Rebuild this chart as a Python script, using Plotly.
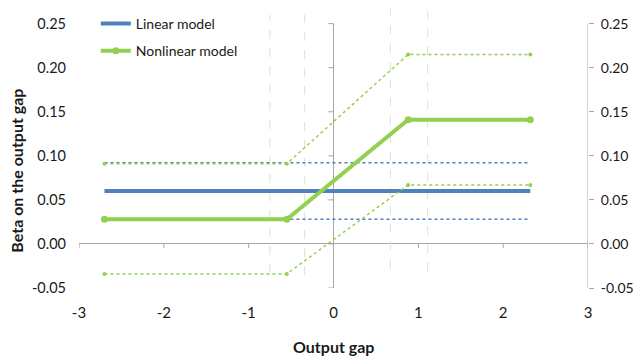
import plotly.graph_objects as go

# ---- data ----
lin_x = [-2.7, 2.32]
lin_beta = [0.06, 0.06]
lin_upper = [0.092, 0.092]
lin_lower = [0.028, 0.028]

nl_x = [-2.7, -0.55, 0.88, 2.32]
nl_beta = [0.028, 0.028, 0.141, 0.141]
nl_upper = [0.091, 0.091, 0.215, 0.215]
nl_lower = [-0.034, -0.034, 0.067, 0.067]

thr_x = [-0.75, -0.34, 0.67, 1.11]
thr_top = [0.260, 0.260, 0.267, 0.264]
thr_bottom = [-0.033, -0.035, -0.028, -0.031]

y_tickvals = [-0.05, 0.0, 0.05, 0.10, 0.15, 0.20, 0.25]
y_ticktext = ["-0.05", "0.00", "0.05", "0.10", "0.15", "0.20", "0.25"]
x_tickvals = [-3, -2, -1, 0, 1, 2, 3]
x_ticktext = ["-3", "-2", "-1", "0", "1", "2", "3"]

BLUE = "#4F81BD"
GREEN = "#92D050"
AXIS = "#A6A6A6"
FONT = "Lato, 'Liberation Sans', sans-serif"
TXT = "#1a1a1a"

fig = go.Figure()

# threshold confidence lines
vx, vy = [], []
for x0, t, b in zip(thr_x, thr_top, thr_bottom):
    vx += [x0, x0, None]
    vy += [b, t, None]
fig.add_trace(go.Scatter(x=vx, y=vy, mode="lines", showlegend=False,
                         line=dict(color="#D8E6C0", width=1, dash="dash"),
                         hoverinfo="skip"))

# linear model
fig.add_trace(go.Scatter(x=lin_x, y=lin_beta, mode="lines", name="Linear model",
                         line=dict(color=BLUE, width=4), legendgroup="a"))
for ys in (lin_upper, lin_lower):
    fig.add_trace(go.Scatter(x=lin_x, y=ys, mode="lines", showlegend=False,
                             line=dict(color=BLUE, width=1.5, dash="dot")))

# nonlinear model
for ys in (nl_upper, nl_lower):
    fig.add_trace(go.Scatter(x=nl_x, y=ys, mode="lines+markers", showlegend=False,
                             line=dict(color=GREEN, width=1.5, dash="dot"),
                             marker=dict(color=GREEN, size=4)))
fig.add_trace(go.Scatter(x=nl_x, y=nl_beta, mode="lines+markers", name="Nonlinear model",
                         line=dict(color=GREEN, width=4),
                         marker=dict(color=GREEN, size=7), legendgroup="b"))

# invisible trace for right axis
fig.add_trace(go.Scatter(x=[None], y=[None], yaxis="y2", showlegend=False))

shapes = []
# vertical axis at x=0
shapes.append(dict(type="line", xref="x", yref="y", x0=0, x1=0,
                   y0=y_tickvals[0], y1=y_tickvals[-1],
                   line=dict(color=AXIS, width=1), layer="below"))
# right axis line at x=3
shapes.append(dict(type="line", xref="x", yref="y", x0=x_tickvals[-1], x1=x_tickvals[-1],
                   y0=y_tickvals[0], y1=y_tickvals[-1],
                   line=dict(color=AXIS, width=1), layer="below"))
# tick marks on x=0 axis (pointing left)
for v in y_tickvals:
    shapes.append(dict(type="line", xref="x", yref="y", x0=-0.06, x1=0, y0=v, y1=v,
                       line=dict(color=AXIS, width=1), layer="below"))
# tick marks on y=0 axis (pointing down)
for v in x_tickvals:
    shapes.append(dict(type="line", xref="x", yref="y", x0=v, x1=v, y0=0, y1=-0.0048,
                       line=dict(color=AXIS, width=1), layer="below"))

YR = [-0.05, 0.27]

fig.update_layout(
    width=634, height=359,
    margin=dict(l=79, r=46, t=6, b=71),
    paper_bgcolor="white", plot_bgcolor="white",
    font=dict(family=FONT, size=15, color=TXT),
    shapes=shapes,
    xaxis=dict(range=[-3, 3], tickvals=x_tickvals, ticktext=x_ticktext,
               showgrid=False, zeroline=False, showline=False, automargin=False,
               ticks="", ticklabelstandoff=14, tickfont=dict(size=15)),
    yaxis=dict(range=YR, tickvals=y_tickvals, ticktext=y_ticktext, automargin=False,
               showgrid=False, zeroline=True, zerolinecolor=AXIS, zerolinewidth=1,
               showline=False, ticks="", ticklabelstandoff=12, tickfont=dict(size=14.5)),
    yaxis2=dict(range=YR, overlaying="y", side="right", tickvals=y_tickvals,
                ticktext=y_ticktext, showgrid=False, zeroline=False, showline=False,
                automargin=False,
                ticks="outside", ticklen=5, tickcolor=AXIS, ticklabelstandoff=4,
                tickfont=dict(size=14)),
    legend=dict(x=0.033, y=0.993, xanchor="left", yanchor="top",
                bgcolor="rgba(0,0,0,0)", font=dict(size=14), tracegroupgap=6,
                traceorder="grouped"),
    annotations=[
        dict(text="<b>Beta on the output gap</b>", textangle=-90, xref="paper", yref="y",
             x=-0.122, y=0.083, xanchor="center", yanchor="middle", showarrow=False,
             font=dict(size=16)),
        dict(text="<b>Output gap</b>", xref="x", yref="paper", x=0, y=-0.2085,
             xanchor="center", yanchor="middle", showarrow=False, font=dict(size=16)),
    ],
)

# remove the browser's default page margin so the 634x359 figure fills the window
fig.write_html(
    "out.html",
    config={"displayModeBar": False},
    post_script="document.body.style.margin='0';"
                "document.documentElement.style.overflow='hidden';",
)
